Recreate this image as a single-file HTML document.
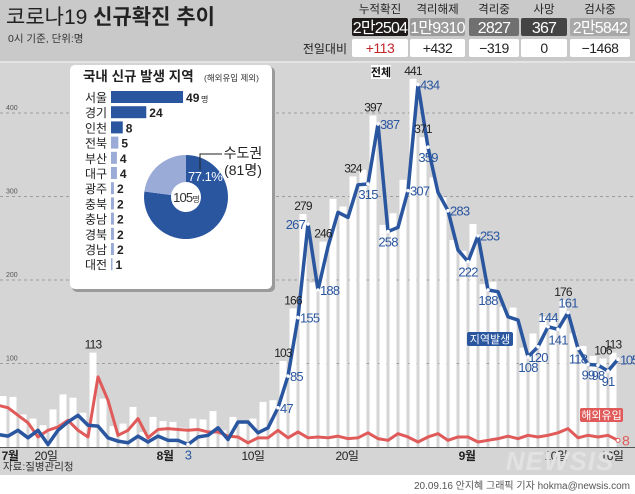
<!DOCTYPE html>
<html><head><meta charset="utf-8">
<style>
html,body{margin:0;padding:0;background:#fff;}
svg{display:block;font-family:"Liberation Sans","Noto Sans CJK KR",sans-serif;}
</style></head>
<body>
<svg id="chart" width="635" height="494" viewBox="0 0 635 494">
  <rect x="0" y="0" width="635" height="61" fill="#c9c9c9"/>
  <rect x="0" y="61" width="635" height="2" fill="#e4e4e4"/>
  <rect x="0" y="63" width="635" height="412" fill="#d5d5d5"/>
  <text x="6" y="24" font-size="21" fill="#222">코로나19 <tspan font-weight="bold">신규확진 추이</tspan></text>
  <text x="8" y="42" font-size="10.5" fill="#333">0시 기준, 단위:명</text>
  <g id="stats"></g>
  <g id="grid"></g>
  <g id="bars"></g>
  <g id="lines"></g>
  <g id="labels"></g>
  <g id="xaxis"></g>
  <text x="560" y="470" font-size="26" font-weight="bold" font-style="italic" fill="#e2e2e2" text-anchor="middle" letter-spacing="1">NEWSIS</text>
  <text x="3" y="470" font-size="10.5" fill="#333">자료:질병관리청</text>
  <text x="630" y="489" font-size="10" fill="#555" text-anchor="end">20.09.16 안지혜 그래픽 기자 hokma@newsis.com</text>
  <rect x="371" y="65" width="20" height="14" fill="#fff"/>
  <text x="381" y="76" font-size="11" font-weight="bold" fill="#111" text-anchor="middle">전체</text>
  <rect x="467" y="332" width="46" height="14" rx="2" fill="#2a56a0"/>
  <text x="490" y="343" font-size="11" fill="#fff" text-anchor="middle">지역발생</text>
  <rect x="580" y="408" width="43" height="14" rx="2" fill="#e05a5a"/>
  <text x="601.5" y="419" font-size="11" fill="#fff" text-anchor="middle">해외유입</text>
  <g id="inset"></g>
</svg>
<script>
const NS="http://www.w3.org/2000/svg";
// ---- data ----
const statNames=["누적확진","격리해제","격리중","사망","검사중"];
const statValues=["2만2504","1만9310","2827","367","2만5842"];
const statDiffs=["+113","+432","−319","0","−1468"];
const totals=[39,61,60,39,34,26,45,63,59,41,113,58,25,28,48,18,36,31,30,23,34,33,43,20,36,28,34,54,56,103,166,279,197,246,297,288,324,332,397,266,280,320,441,371,323,299,248,235,267,195,198,168,167,119,136,156,155,176,136,121,109,106,113];
const local=[15,13,20,11,20,3,20,30,38,26,25,11,7,5,13,6,13,8,8,3,12,14,23,9,30,30,17,23,47,85,155,267,188,240,281,275,314,315,387,258,263,307,434,359,305,283,236,222,253,188,186,156,152,108,120,144,141,161,118,99,98,91,105];
const imported=[50,47,38,29,12,20,24,32,20,12,84,56,14,20,34,11,21,22,21,20,21,18,18,13,12,5,11,11,20,11,18,11,12,11,13,10,11,17,10,8,16,12,6,12,16,8,12,12,6,8,10,13,10,14,12,14,17,22,11,14,12,14,8];
const totalLabelIdx=[10,29,30,31,33,36,38,42,43,57,61,62];
const localLabelIdx=[19,28,29,30,31,32,37,38,39,41,42,43,45,47,48,49,53,54,55,56,57,58,59,60,61,62];
const localLabelPos=["b","r","r","r","l","r","b","r","b","r","r","b","r","b","r","b","b","b","t","b","t","b","b","b","b","r"];
const yTicks=[100,200,300,400];
const xTickLabels=["7월","20일","8월","10일","20일","9월","10일","16일"];
const xTickIdx=[1.7,5.3,17.2,26,35.4,47.4,56.3,61.9];
const xTickBold=[true,false,true,false,false,true,false,false];
const regions=["서울","경기","인천","전북","부산","대구","광주","충북","충남","경북","경남","대전"];
const regionValues=[49,24,8,5,4,4,2,2,2,2,2,1];
const metroShare=77.1;
// ---- scales ----
const X=i=>-7+10*i;
const Y=v=>447-v*0.835;
function el(tag,attrs,parent,text){const e=document.createElementNS(NS,tag);for(const k in attrs)e.setAttribute(k,attrs[k]);if(text!==undefined)e.textContent=text;parent.appendChild(e);return e;}
// stats
const st=document.getElementById('stats');
const boxX=[352,410,469,521,570], boxW=[56,55,50,46,60], boxC=["#1e1a1a","#9a9a9a","#707070","#444","#a8a8a8"];
statNames.forEach((n,k)=>{
  const cx=boxX[k]+boxW[k]/2;
  const t=el('text',{x:cx,y:13,'font-size':11.5,fill:'#222','text-anchor':'middle'},st,n);
  
  
  const r=el('rect',{x:boxX[k],y:18,width:boxW[k],height:18,rx:2,fill:boxC[k]},st);
  
  
  const v=el('text',{x:cx,y:33,'font-size':16,fill:'#fff','text-anchor':'middle','letter-spacing':'-0.8'},st,statValues[k]);
  
  
  const d=el('rect',{x:boxX[k],y:39,width:boxW[k],height:18,rx:2,fill:'#fff'},st);
  
  
  const dt=el('text',{x:cx,y:53,'font-size':14,fill:k==0?'#c0272d':'#222','text-anchor':'middle','letter-spacing':'-0.5'},st,statDiffs[k]);
  
  
});
const dl=el('text',{x:347,y:53,'font-size':12,fill:'#222','text-anchor':'end'},st,"전일대비");


// grid
const g=document.getElementById('grid');
yTicks.forEach(v=>{
  const l=el('line',{x1:0,x2:635,y1:Y(v),y2:Y(v),stroke:'#8a8a8a','stroke-width':0.8,'stroke-dasharray':'3,3'},g);
  
  
  const t=el('text',{x:6,y:Y(v)-3,'font-size':7,fill:'#555'},g,String(v));
  
  
});
// bars
const b=document.getElementById('bars');
totals.forEach((v,i)=>{
  const r=el('rect',{x:X(i)-3.5,y:Y(v),width:7,height:447-Y(v),fill:'#fff'},b);
  
  
});
// lines
const L=document.getElementById('lines');
const pts=a=>a.map((v,i)=>(X(i)+5)+","+Y(v)).join(" ");
const pr=el('polyline',{points:pts(imported),fill:'none',stroke:'#e05a5a','stroke-width':3,'stroke-linejoin':'round'},L);


const pb=el('polyline',{points:pts(local),fill:'none',stroke:'#2a56a0','stroke-width':3.5,'stroke-linejoin':'round'},L);


const ex=el('circle',{cx:X(62)+5,cy:Y(imported[62]),r:2,fill:'#fff',stroke:'#e05a5a','stroke-width':1},L);


const et=el('text',{x:X(62)+9,y:Y(imported[62])+5,'font-size':14,fill:'#e05a5a'},L,String(imported[62]));


// labels
const lab=document.getElementById('labels');
totalLabelIdx.forEach(i=>{
  const t=el('text',{x:X(i),y:Y(totals[i])-4,'font-size':12,fill:'#222','text-anchor':'middle','letter-spacing':'-0.8'},lab,String(totals[i]));
  
  
});
localLabelIdx.forEach((i,k)=>{
  const px=X(i)+5, py=Y(local[i]);
  const c=el('circle',{cx:px,cy:py,r:1.8,fill:'#fff'},lab);
  
  
  const p=localLabelPos[k]; let a={x:px+2,y:py+5,'text-anchor':'start'};
  if(p=='l')a={x:px-3,y:py+5,'text-anchor':'end'};
  if(p=='b')a={x:px,y:py+15,'text-anchor':'middle'};
  if(p=='t')a={x:px,y:py-5,'text-anchor':'middle'};
  a['font-size']=13;a.fill='#2a56a0';a['letter-spacing']=(i==62?'-1.3':'-0.8');
  const t=el('text',a,lab,String(local[i]));
  
  
});
// x axis
const xa=document.getElementById('xaxis');
const axl=el('line',{x1:0,x2:635,y1:447.5,y2:447.5,stroke:'#555','stroke-width':1},xa);


xTickLabels.forEach((s,k)=>{
  const t=el('text',{x:X(xTickIdx[k]),y:460,'font-size':12,fill:'#222','text-anchor':'middle','font-weight':xTickBold[k]?'bold':'normal','letter-spacing':'-0.5'},xa,s);
  
  
});
// inset
const ins=document.getElementById('inset');
const sh=el('rect',{x:72,y:67,width:203,height:225,rx:5,fill:'#9a9a9a'},ins);


const box=el('rect',{x:70,y:65,width:202,height:224,rx:5,fill:'#fff'},ins);


const it=el('text',{x:83,y:81,'font-size':13.5,'font-weight':'bold',fill:'#222'},ins,"국내 신규 발생 지역");


const is=el('text',{x:204,y:81,'font-size':8.5,fill:'#333'},ins,"(해외유입 제외)");


regions.forEach((r,k)=>{
  const y=97+k*15.2;
  const t=el('text',{x:85,y:y+5,'font-size':12,fill:'#222'},ins,r);
  
  
  const w=regionValues[k]*1.47;
  const br=el('rect',{x:111,y:y-6,width:w,height:12,fill:k<3?'#2a56a0':'#9aabd8'},ins);
  
  
  const vt=el('text',{x:111+w+3,y:y+5,'font-size':12,'font-weight':'bold',fill:'#222'},ins,String(regionValues[k]));
  
  
  if(k==0){const u=el('text',{x:111+w+18,y:y+5,'font-size':8,fill:'#222'},ins,"명");
    
    }
});
// donut
const cx=186,cy=197,R=42,ri=15;
function arc(a0,a1,col,name){
  const p=(a,r)=>[cx+r*Math.sin(a),cy-r*Math.cos(a)];
  const large=(a1-a0)>Math.PI?1:0;
  const [x0,y0]=p(a0,R),[x1,y1]=p(a1,R),[x2,y2]=p(a1,ri),[x3,y3]=p(a0,ri);
  const d=`M${x0},${y0}A${R},${R} 0 ${large} 1 ${x1},${y1}L${x2},${y2}A${ri},${ri} 0 ${large} 0 ${x3},${y3}Z`;
  const e=el('path',{d:d,fill:col},ins);
  
  
}
const sp=metroShare/100*2*Math.PI;
arc(0,sp,'#2a56a0','donut-metro-slice');
arc(sp,2*Math.PI,'#9aabd8','donut-other-slice');
const dc=el('text',{x:cx,y:cy+5,'font-size':13,fill:'#333','text-anchor':'middle','letter-spacing':'-0.8'},ins);


dc.innerHTML='105<tspan font-size="8">명</tspan>';
const pt=el('text',{x:188,y:181,'font-size':13,fill:'#fff','letter-spacing':'-0.5'},ins,metroShare+"%");


const ld=el('polyline',{points:"200,170 200,154 222,154",fill:'none',stroke:'#222','stroke-width':1},ins);


const m1=el('text',{x:243,y:158,'font-size':14,fill:'#222','text-anchor':'middle'},ins,"수도권");


const m2=el('text',{x:243,y:175,'font-size':14,fill:'#222','text-anchor':'middle'},ins,"(81명)");


</script>
</body></html>
